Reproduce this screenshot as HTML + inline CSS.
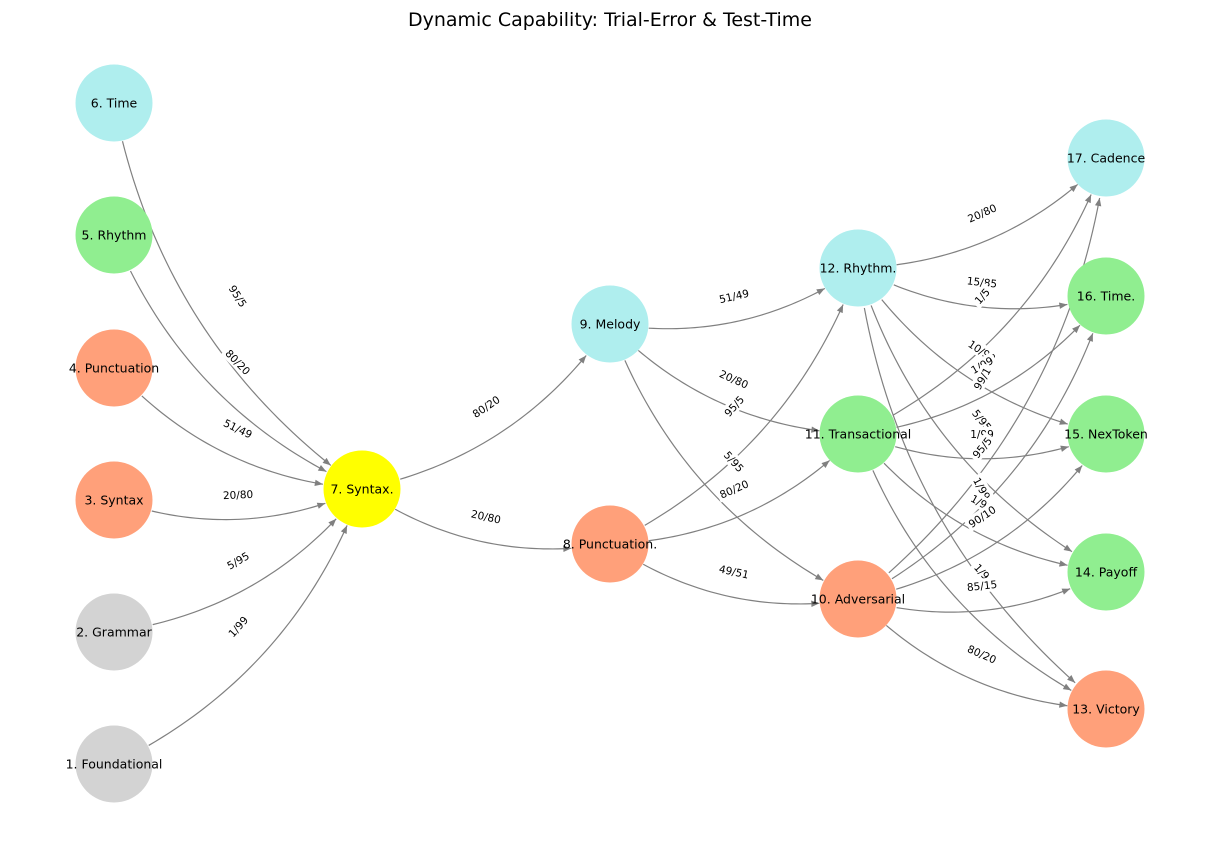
<!DOCTYPE html>
<html><head><meta charset="utf-8">
<style>
html,body{margin:0;padding:0;background:#fff;}
svg{display:block;font-family:"DejaVu Sans","Liberation Sans",sans-serif;}
</style></head>
<body>
<svg id="chart" width="1220" height="844" viewBox="0 0 1220 844" xmlns="http://www.w3.org/2000/svg">
<defs><marker id="arr" viewBox="0 0 10 10" refX="10" refY="5" markerWidth="10" markerHeight="8" markerUnits="userSpaceOnUse" orient="auto"><path d="M0,1 L10,5 L0,9 z" fill="#808080"/></marker></defs>
<text x="610" y="26" text-anchor="middle" font-size="19" fill="#000">Dynamic Capability: Trial-Error &amp; Test-Time</text>
<g id="edges"></g><g id="elabels"></g><g id="nodes"></g>
</svg>
<script>
const nodeIds = [1,2,3,4,5,6,7,8,9,10,11,12,13,14,15,16,17];
const nodeLabels = ["1. Foundational","2. Grammar","3. Syntax","4. Punctuation","5. Rhythm","6. Time","7. Syntax.","8. Punctuation.","9. Melody","10. Adversarial","11. Transactional","12. Rhythm.","13. Victory","14. Payoff","15. NexToken","16. Time.","17. Cadence"];
const nodeColors = ["#d3d3d3","#d3d3d3","#ffa07a","#ffa07a","#90ee90","#afeeee","#ffff00","#ffa07a","#afeeee","#ffa07a","#90ee90","#afeeee","#ffa07a","#90ee90","#90ee90","#90ee90","#afeeee"];
const nodeX = [114,114,114,114,114,114,362,610,610,858,858,858,1106,1106,1106,1106,1106];
const nodeY = [764,632,500,368,235,103,489,544,324,599,434,268,709,572,434,296,158];
const edgeFrom = [1,2,3,4,5,6,7,7,9,9,9,8,8,8,12,12,12,12,12,11,11,11,11,11,10,10,10,10,10];
const edgeTo   = [7,7,7,7,7,7,9,8,12,11,10,12,11,10,17,16,15,14,13,17,16,15,14,13,17,16,15,14,13];
const edgeLabels = ["1/99","5/95","20/80","51/49","80/20","95/5","80/20","20/80","51/49","20/80","5/95","95/5","80/20","49/51","20/80","15/85","10/90","5/95","1/99","1/5","1/99","1/99","1/99","1/9","99/1","95/5","90/10","85/15","80/20"];
const R = 38.5, RAD = 0.2;
const NS="http://www.w3.org/2000/svg";
const eg=document.getElementById('edges'), lg=document.getElementById('elabels'), ng=document.getElementById('nodes');
function bez(p0,c,p1,t){const u=1-t;return [u*u*p0[0]+2*u*t*c[0]+t*t*p1[0], u*u*p0[1]+2*u*t*c[1]+t*t*p1[1]];}
for(let i=0;i<edgeFrom.length;i++){
  const a=edgeFrom[i]-1,b=edgeTo[i]-1;
  const p0=[nodeX[a],nodeY[a]],p1=[nodeX[b],nodeY[b]];
  const dx=p1[0]-p0[0],dy=p1[1]-p0[1];
  const c=[(p0[0]+p1[0])/2 - RAD*dy,(p0[1]+p1[1])/2 + RAD*dx];
  let t0=0,t1=1;
  for(let k=0;k<200;k++){const t=k/200;const q=bez(p0,c,p1,t);if(Math.hypot(q[0]-p0[0],q[1]-p0[1])>=R){t0=t;break;}}
  for(let k=200;k>0;k--){const t=k/200;const q=bez(p0,c,p1,t);if(Math.hypot(q[0]-p1[0],q[1]-p1[1])>=R){t1=t;break;}}
  let d='';
  for(let k=0;k<=40;k++){const t=t0+(t1-t0)*k/40;const q=bez(p0,c,p1,t);d+=(k?'L':'M')+q[0].toFixed(2)+','+q[1].toFixed(2);}
  const p=document.createElementNS(NS,'path');
  p.setAttribute('d',d);p.setAttribute('fill','none');p.setAttribute('stroke','#808080');p.setAttribute('stroke-width','1.2');p.setAttribute('marker-end','url(#arr)');
  
  
  eg.appendChild(p);
  const mx=(p0[0]+p1[0])/2,my=(p0[1]+p1[1])/2;
  let ang=Math.atan2(dy,dx)*180/Math.PI; if(ang>90)ang-=180; if(ang<-90)ang+=180;
  const g=document.createElementNS(NS,'g');
  g.setAttribute('transform','translate('+mx+','+my+') rotate('+ang+')');
  
  
  const w=edgeLabels[i].length*6.2+4;
  const r=document.createElementNS(NS,'rect');r.setAttribute('x',-w/2);r.setAttribute('y',-7);r.setAttribute('width',w);r.setAttribute('height',14);r.setAttribute('fill','#fff');
  g.appendChild(r);
  const tx=document.createElementNS(NS,'text');tx.setAttribute('text-anchor','middle');tx.setAttribute('y','4');tx.setAttribute('font-size','10.5');tx.textContent=edgeLabels[i];
  g.appendChild(tx);lg.appendChild(g);
}
for(let i=0;i<nodeIds.length;i++){
  const g=document.createElementNS(NS,'g');
  
  
  const c=document.createElementNS(NS,'circle');c.setAttribute('cx',nodeX[i]);c.setAttribute('cy',nodeY[i]);c.setAttribute('r',R);c.setAttribute('fill',nodeColors[i]);
  g.appendChild(c);
  const t=document.createElementNS(NS,'text');t.setAttribute('x',nodeX[i]);t.setAttribute('y',nodeY[i]+4.5);t.setAttribute('text-anchor','middle');t.setAttribute('font-size','12.5');t.textContent=nodeLabels[i];
  g.appendChild(t);ng.appendChild(g);
}
</script>
</body></html>
